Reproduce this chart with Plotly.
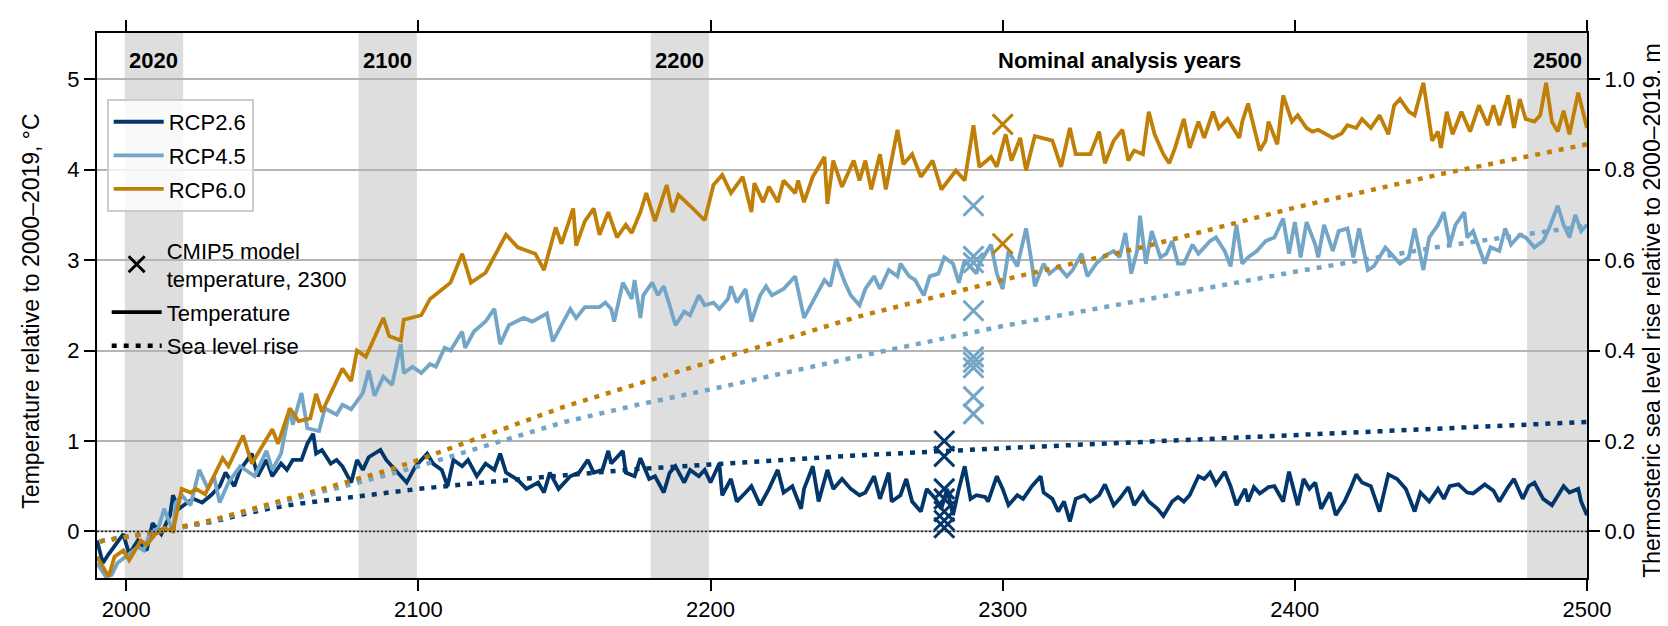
import plotly.graph_objects as go

# ---------------- data ----------------
years_26 = [1990,1992,1994,1999,2001,2004,2007,2009,2012,2015,2016,2018,2021,2023,2026,2029,2032,2034,2037,2039,
            2043,2045,2048,2050,2053,2055,2057,2060,2062,2064,2065,2067,2070,2072,2074,2077,2079,2081,2083,2087,
            2089,2092,2094,2096,2099,2103,2105,2108,2110,2112,2115,2117,2120,2123,2126,2128,2130,2132,2134,2137,
            2141,2143,2145,2148,2152,2155,2158,2160,2163,2165,2166,2170,2171,2174,2176,2179,2181,2184,2186,2188,
            2191,2193,2196,2198,2200,2203,2204,2207,2209,2212,2214,2217,2220,2223,2225,2228,2231,2232,2235,2237,
            2240,2242,2245,2248,2251,2253,2256,2258,2261,2262,2265,2267,2269,2272,2274,2277,2279,2281,2283,2285,
            2287,2289,2291,2294,2295,2298,2300,2302,2305,2307,2310,2313,2314,2317,2319,2321,2323,2325,2328,2330,
            2333,2335,2338,2340,2343,2345,2348,2350,2353,2355,2358,2360,2362,2364,2367,2369,2371,2373,2376,2378,
            2380,2383,2384,2386,2388,2391,2393,2396,2398,2401,2403,2405,2407,2409,2412,2414,2417,2419,2421,2423,
            2426,2429,2432,2435,2438,2441,2443,2446,2449,2451,2453,2456,2459,2461,2465,2468,2470,2473,2475,2478,
            2480,2482,2485,2488,2492,2494,2497,2498,2500]
temp_26 = [-0.10,-0.35,-0.25,-0.03,-0.25,-0.10,-0.21,0.09,-0.03,0.18,0.40,0.25,0.32,0.36,0.32,0.40,0.50,0.65,0.50,0.68,
           0.86,0.61,0.79,0.61,0.75,0.68,0.79,0.79,0.97,1.08,0.86,0.90,0.75,0.79,0.72,0.54,0.79,0.68,0.82,0.90,
           0.79,0.68,0.61,0.54,0.72,0.86,0.75,0.68,0.50,0.79,0.72,0.79,0.61,0.75,0.68,0.86,0.65,0.61,0.57,0.47,
           0.54,0.43,0.65,0.47,0.61,0.65,0.79,0.65,0.68,0.89,0.75,0.89,0.65,0.61,0.81,0.58,0.61,0.43,0.65,0.72,
           0.54,0.68,0.61,0.68,0.54,0.75,0.40,0.58,0.33,0.43,0.50,0.29,0.47,0.68,0.43,0.50,0.25,0.47,0.72,0.33,
           0.68,0.47,0.58,0.47,0.40,0.43,0.61,0.36,0.65,0.33,0.40,0.58,0.33,0.22,0.47,0.36,0.25,0.47,0.18,0.47,
           0.72,0.36,0.40,0.38,0.33,0.61,0.47,0.29,0.40,0.36,0.50,0.61,0.43,0.36,0.22,0.33,0.11,0.36,0.40,0.33,
           0.40,0.52,0.29,0.36,0.49,0.29,0.43,0.33,0.25,0.17,0.33,0.38,0.33,0.40,0.61,0.58,0.65,0.52,0.66,0.50,
           0.29,0.47,0.33,0.49,0.42,0.49,0.50,0.33,0.66,0.29,0.58,0.47,0.54,0.25,0.43,0.18,0.33,0.47,0.63,0.54,
           0.50,0.22,0.63,0.58,0.47,0.22,0.43,0.33,0.47,0.36,0.50,0.52,0.43,0.42,0.52,0.45,0.33,0.49,0.58,0.36,
           0.50,0.54,0.36,0.29,0.50,0.43,0.47,0.33,0.18]

years_45 = [1990,1993,1995,1997,2001,2004,2006,2008,2011,2013,2016,2017,2019,2022,2025,2028,2030,2032,2035,2039,
            2044,2048,2050,2053,2056,2057,2060,2062,2066,2068,2072,2074,2077,2081,2083,2085,2088,2091,2094,2095,
            2098,2101,2104,2106,2109,2111,2115,2116,2119,2123,2126,2128,2131,2136,2139,2144,2146,2149,2152,2154,
            2157,2162,2164,2166,2167,2170,2173,2174,2176,2177,2180,2182,2184,2186,2188,2191,2193,2196,2198,2201,
            2203,2206,2207,2209,2212,2214,2217,2219,2221,2225,2229,2232,2236,2239,2241,2243,2246,2248,2251,2253,
            2256,2258,2261,2264,2265,2268,2270,2273,2275,2278,2280,2283,2285,2287,2291,2292,2296,2298,2300,2302,
            2305,2308,2310,2311,2314,2316,2319,2322,2324,2327,2329,2332,2335,2338,2340,2342,2344,2346,2347,2349,
            2351,2354,2356,2358,2360,2362,2365,2367,2371,2373,2376,2378,2380,2382,2384,2387,2390,2393,2396,2398,
            2400,2402,2404,2407,2408,2410,2413,2415,2418,2420,2422,2425,2427,2431,2434,2436,2439,2441,2444,2446,
            2449,2451,2453,2455,2458,2459,2461,2465,2467,2470,2472,2474,2477,2479,2482,2485,2487,2490,2492,2494,
            2496,2498,2500]
temp_45 = [-0.35,-0.50,-0.48,-0.35,-0.25,-0.17,-0.21,-0.03,0.04,0.25,0.00,0.32,0.40,0.29,0.68,0.47,0.61,0.32,0.54,0.72,
           0.61,0.89,0.68,0.86,1.36,1.18,1.53,1.14,1.11,1.36,1.29,1.40,1.35,1.53,1.78,1.50,1.71,1.62,2.07,1.75,
           1.82,1.75,1.85,1.82,2.03,2.00,2.21,2.03,2.21,2.32,2.46,2.07,2.28,2.36,2.32,2.41,2.10,2.28,2.46,2.36,
           2.48,2.48,2.53,2.46,2.32,2.75,2.57,2.78,2.36,2.61,2.75,2.61,2.71,2.50,2.28,2.43,2.39,2.61,2.50,2.53,
           2.46,2.57,2.71,2.53,2.68,2.32,2.61,2.71,2.61,2.68,2.82,2.36,2.61,2.78,2.71,3.01,2.75,2.61,2.50,2.68,
           2.82,2.68,2.89,2.82,2.96,2.82,2.78,2.61,2.82,2.85,3.03,2.96,2.75,3.00,2.85,2.96,3.17,2.85,2.68,3.10,
           2.93,3.35,2.96,2.71,2.96,2.85,2.93,2.82,2.89,3.07,2.82,2.96,3.05,3.10,3.03,3.30,2.85,3.10,3.49,2.96,
           3.32,3.03,3.07,3.21,2.96,2.96,3.17,3.07,3.21,3.25,3.10,2.93,3.39,2.96,3.03,3.10,3.21,3.25,3.46,3.07,
           3.42,3.03,3.42,3.17,3.03,3.39,3.10,3.32,3.35,3.03,3.35,2.89,2.93,3.14,3.03,2.96,3.03,3.35,2.89,3.25,
           3.39,3.53,3.17,3.39,3.53,3.25,3.32,2.96,3.14,3.10,3.35,3.17,3.28,3.25,3.14,3.21,3.35,3.60,3.39,3.25,
           3.50,3.32,3.39]

years_60 = [1990,1994,1996,1999,2001,2005,2007,2010,2013,2016,2019,2022,2024,2027,2033,2035,2040,2043,2050,2052,
            2056,2059,2063,2065,2067,2074,2077,2079,2082,2088,2090,2094,2095,2101,2104,2111,2115,2118,2123,2130,
            2134,2140,2143,2147,2149,2153,2154,2157,2160,2162,2165,2168,2171,2173,2176,2178,2181,2185,2187,2189,
            2193,2195,2198,2201,2204,2207,2211,2214,2215,2218,2220,2223,2225,2229,2230,2232,2235,2239,2240,2242,
            2245,2249,2251,2253,2255,2258,2260,2264,2266,2269,2272,2276,2279,2284,2287,2290,2292,2296,2298,2301,
            2303,2306,2308,2311,2317,2320,2323,2325,2330,2333,2335,2338,2341,2343,2345,2348,2350,2352,2355,2357,
            2359,2362,2364,2367,2369,2372,2374,2377,2381,2382,2384,2388,2390,2391,2394,2396,2399,2401,2404,2406,
            2408,2413,2416,2418,2421,2423,2426,2429,2432,2434,2436,2439,2441,2444,2447,2449,2450,2452,2454,2457,
            2460,2463,2466,2468,2470,2473,2475,2477,2479,2482,2484,2486,2488,2490,2492,2494,2497,2500]
temp_60 = [-0.28,-0.50,-0.28,-0.21,-0.32,-0.10,-0.15,-0.03,0.04,0.00,0.47,0.43,0.47,0.41,0.81,0.72,1.06,0.75,1.13,0.97,
           1.36,1.22,1.25,1.52,1.32,1.80,1.66,2.00,1.93,2.36,2.16,2.11,2.34,2.39,2.57,2.75,3.07,2.75,2.86,3.28,
           3.14,3.07,2.89,3.36,3.18,3.57,3.16,3.43,3.57,3.28,3.53,3.25,3.39,3.30,3.53,3.74,3.43,3.83,3.53,3.72,
           3.60,3.53,3.44,3.83,3.94,3.74,3.92,3.53,3.85,3.64,3.81,3.64,3.88,3.74,3.88,3.64,3.92,4.14,3.62,4.10,
           3.81,4.10,3.88,4.10,3.78,4.17,3.78,4.44,4.06,4.17,3.92,4.10,3.78,3.99,3.88,4.49,4.03,4.14,4.03,4.39,
           4.10,4.35,3.99,4.37,4.32,4.03,4.46,4.17,4.17,4.42,4.07,4.32,4.44,4.10,4.21,4.17,4.64,4.39,4.17,4.07,
           4.24,4.56,4.24,4.53,4.35,4.64,4.46,4.56,4.35,4.53,4.73,4.21,4.32,4.53,4.28,4.82,4.53,4.60,4.46,4.42,
           4.44,4.35,4.40,4.49,4.46,4.56,4.46,4.60,4.39,4.71,4.78,4.64,4.60,4.96,4.32,4.42,4.24,4.64,4.39,4.64,
           4.42,4.71,4.49,4.71,4.49,4.82,4.46,4.78,4.56,4.53,4.60,4.96,4.53,4.42,4.65,4.39,4.85,4.46]

slr_years = [1991,2000,2010,2020,2030,2040,2050,2060,2070,2080,2090,2100,2125,2150,2175,2200,2250,2300,2350,2400,2450,2500]
slr_26 = [-0.022,-0.012,-0.002,0.010,0.022,0.038,0.052,0.062,0.070,0.078,0.086,0.094,0.110,0.124,0.138,0.148,0.168,0.184,0.198,0.212,0.228,0.242]
slr_45 = [-0.022,-0.012,-0.002,0.010,0.024,0.040,0.058,0.076,0.092,0.110,0.126,0.144,0.194,0.242,0.280,0.314,0.386,0.454,0.514,0.574,0.630,0.676]
slr_60 = [-0.022,-0.012,-0.002,0.012,0.026,0.044,0.062,0.080,0.098,0.118,0.136,0.158,0.216,0.276,0.326,0.376,0.474,0.556,0.632,0.716,0.790,0.856]

cmip_year_26, cmip_year_45, cmip_year_60 = 2280, 2290, 2300
cmip_26 = [1.00, 0.83, 0.47, 0.36, 0.22, 0.12, 0.04]
cmip_45 = [3.60, 3.04, 2.97, 2.44, 1.93, 1.87, 1.81, 1.49, 1.30]
cmip_60 = [4.50, 3.18]

scenarios = ["RCP2.6", "RCP4.5", "RCP6.0"]
bands = [(1999.5, 2019.5, "2020"), (2079.5, 2099.5, "2100"), (2179.5, 2199.5, "2200"), (2479.5, 2500, "2500")]

C26, C45, C60 = "#03366a", "#73a5c7", "#c07f07"
FONT = "Liberation Sans, Arial, sans-serif"

fig = go.Figure()

# sea level (dotted) on right axis
for yrs, vals, col in [(slr_years, slr_26, C26), (slr_years, slr_45, C45), (slr_years, slr_60, C60)]:
    fig.add_trace(go.Scatter(x=yrs, y=vals, yaxis="y2", mode="lines",
                             line=dict(color=col, width=4.5, dash="5px,7px"),
                             showlegend=False, hoverinfo="skip"))

# temperature lines
for name, yrs, vals, col, grp in [(scenarios[0], years_26, temp_26, C26, "a"),
                                  (scenarios[1], years_45, temp_45, C45, "b"),
                                  (scenarios[2], years_60, temp_60, C60, "c")]:
    fig.add_trace(go.Scatter(x=yrs, y=vals, mode="lines", name=name,
                             line=dict(color=col, width=3.8),
                             legend="legend", legendgroup=grp))

# CMIP5 markers
for yr, vals, col in [(cmip_year_26, cmip_26, C26), (cmip_year_45, cmip_45, C45), (cmip_year_60, cmip_60, C60)]:
    fig.add_trace(go.Scatter(x=[yr] * len(vals), y=vals, mode="markers",
                             marker=dict(symbol="x-thin", size=20, line=dict(color=col, width=3)),
                             showlegend=False))

# legend-only entries
fig.add_trace(go.Scatter(x=[None], y=[None], mode="markers", name="CMIP5 model<br>temperature, 2300",
                         marker=dict(symbol="x-thin", size=20, line=dict(color="black", width=3)),
                         legend="legend2", legendgroup="d"))
fig.add_trace(go.Scatter(x=[None], y=[None], mode="lines", name="Temperature",
                         line=dict(color="black", width=3.8), legend="legend2", legendgroup="e"))
fig.add_trace(go.Scatter(x=[None], y=[None], mode="lines", name="Sea level rise",
                         line=dict(color="black", width=4.5, dash="5px,7px"), legend="legend2", legendgroup="f"))

shapes = []
for x0, x1, _ in bands:
    shapes.append(dict(type="rect", xref="x", yref="paper", x0=x0, x1=x1, y0=0, y1=1,
                       fillcolor="#dedede", line=dict(width=0), layer="below"))
shapes.append(dict(type="line", xref="paper", yref="y", x0=0, x1=1, y0=0, y1=0,
                   line=dict(color="#222222", width=1.5, dash="2px,2px"), layer="above"))

annotations = []
for x0, x1, lab in bands:
    annotations.append(dict(x=(x0 + x1) / 2, y=0.95, xref="x", yref="paper", text="<b>%s</b>" % lab,
                            showarrow=False, font=dict(size=22, family=FONT, color="black"),
                            xanchor="center", yanchor="middle"))
annotations.append(dict(x=2340, y=0.95, xref="x", yref="paper", text="<b>Nominal analysis years</b>",
                        showarrow=False, font=dict(size=22, family=FONT, color="black"),
                        xanchor="center", yanchor="middle"))
annotations.append(dict(x=-0.0445, y=0.49, xref="paper", yref="paper", textangle=-90,
                        text="Temperature relative to 2000\u20132019, \u00b0C", showarrow=False,
                        font=dict(size=23, family=FONT, color="black"), xanchor="center", yanchor="middle"))
annotations.append(dict(x=1.0435, y=0.49, xref="paper", yref="paper", textangle=-90,
                        text="Thermosteric sea level rise relative to 2000\u20132019, m", showarrow=False,
                        font=dict(size=23, family=FONT, color="black"), xanchor="center", yanchor="middle"))

axis_common = dict(showline=True, linecolor="black", linewidth=2, ticks="outside", ticklen=11,
                   tickwidth=2, tickcolor="black", tickfont=dict(size=22, family=FONT, color="black"))

fig.update_layout(
    width=1668, height=626,
    margin=dict(l=89, r=89, t=15, b=47),
    paper_bgcolor="white", plot_bgcolor="white",
    font=dict(family=FONT, size=22, color="black"),
    xaxis=dict(range=[1990, 2500], tickvals=[2000, 2100, 2200, 2300, 2400, 2500], showgrid=False,
               zeroline=False, mirror="ticks", **axis_common),
    yaxis=dict(range=[-0.515, 5.51], tickvals=[0, 1, 2, 3, 4, 5], showgrid=True, gridcolor="#b4b4b4",
               gridwidth=1.5, zeroline=False, **axis_common),
    yaxis2=dict(range=[-0.103, 1.102], tickvals=[0, 0.2, 0.4, 0.6, 0.8, 1.0], tickformat=".1f",
                overlaying="y", side="right", showgrid=False, zeroline=False, **axis_common),
    legend=dict(x=0.0065, y=0.879, xanchor="left", yanchor="top", bgcolor="rgba(255,255,255,0.8)",
                bordercolor="#cccccc", borderwidth=2, font=dict(size=22, family=FONT, color="black"),
                tracegroupgap=2, itemwidth=50),
    legend2=dict(x=0.0065, y=0.64, xanchor="left", yanchor="top", bgcolor="rgba(0,0,0,0)",
                 borderwidth=0, font=dict(size=22, family=FONT, color="black"),
                 tracegroupgap=2, itemwidth=50),
    shapes=shapes, annotations=annotations,
)

fig.write_html("out.html")
